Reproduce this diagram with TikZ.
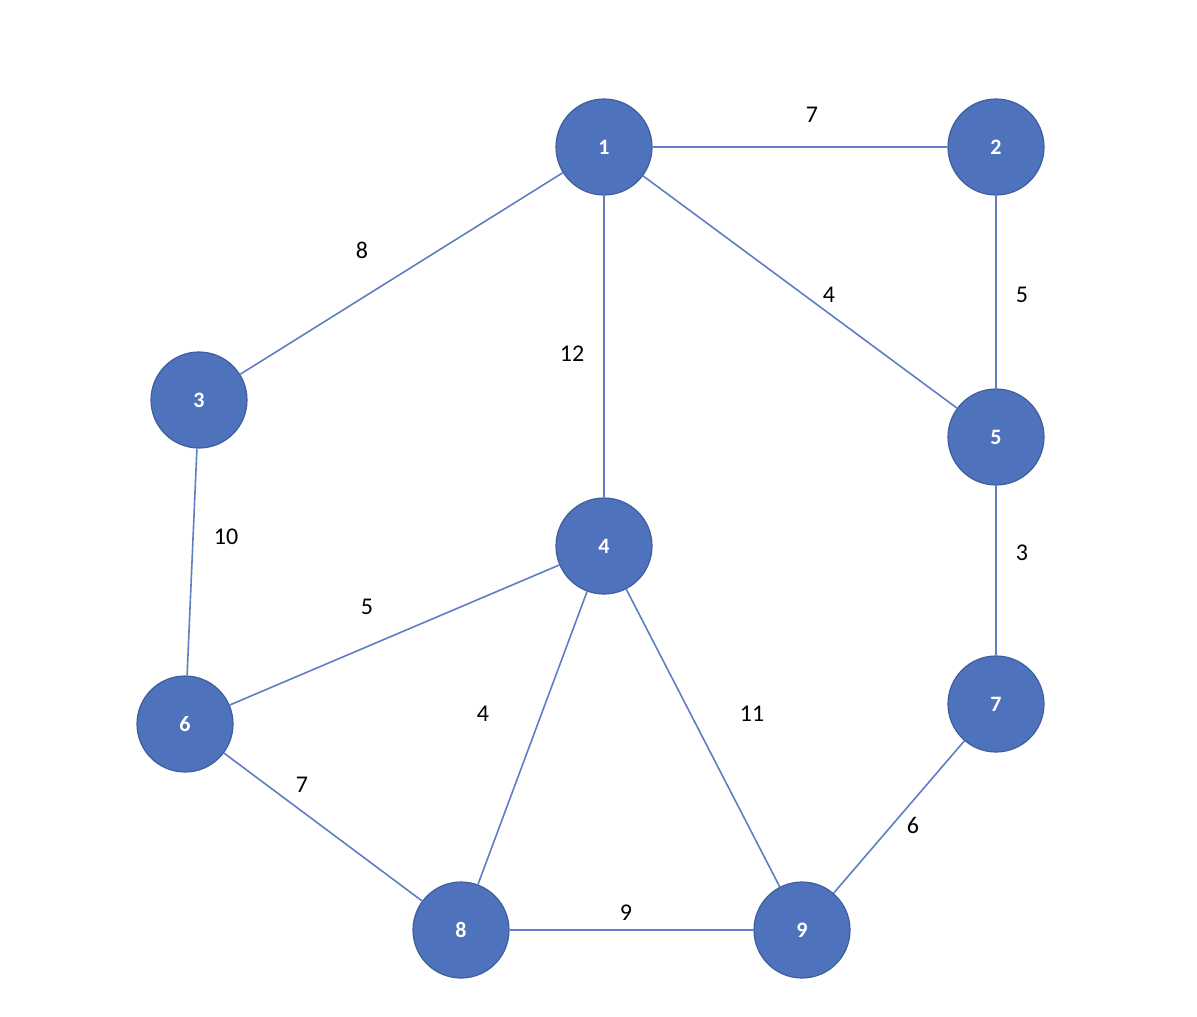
\documentclass[tikz,border=0pt]{standalone}
\usepackage{fontspec}
\setmainfont{Carlito}
\definecolor{nfill}{HTML}{4F72BC}
\definecolor{ndraw}{HTML}{3F5E9C}
\definecolor{ecol}{HTML}{5F7EC4}
\begin{document}
\begin{tikzpicture}[x=1pt,y=-1pt,
  vert/.style={circle,fill=nfill,draw=ndraw,line width=1.2pt,minimum size=96pt,inner sep=0pt,text=white,font=\fontsize{22}{24}\selectfont\bfseries},
  edge/.style={draw=ecol,line width=1.6pt},
  wlab/.style={font=\fontsize{24}{26}\selectfont,text=black}]
\useasboundingbox[fill=white] (0,0) rectangle (1197,1017);
\node[vert] (n1) at (604,147) {1};
\node[vert] (n2) at (996,147) {2};
\node[vert] (n3) at (199,400) {3};
\node[vert] (n4) at (604,546) {4};
\node[vert] (n5) at (996,437) {5};
\node[vert] (n6) at (185,724) {6};
\node[vert] (n7) at (996,704) {7};
\node[vert] (n8) at (461,930) {8};
\node[vert] (n9) at (802,930) {9};
\begin{scope}[on background layer/.style={}]
\end{scope}
\draw[edge] (n1) -- (n2);
\draw[edge] (n1) -- (n3);
\draw[edge] (n1) -- (n4);
\draw[edge] (n1) -- (n5);
\draw[edge] (n2) -- (n5);
\draw[edge] (n3) -- (n6);
\draw[edge] (n5) -- (n7);
\draw[edge] (n4) -- (n6);
\draw[edge] (n4) -- (n8);
\draw[edge] (n4) -- (n9);
\draw[edge] (n6) -- (n8);
\draw[edge] (n7) -- (n9);
\draw[edge] (n8) -- (n9);
\node[wlab] (l12) at (812,115) {7};
\node[wlab] (l13) at (362,250) {8};
\node[wlab] (l14) at (572,354) {12};
\node[wlab] (l15) at (829,295) {4};
\node[wlab] (l25) at (1022,295) {5};
\node[wlab] (l36) at (226,537) {10};
\node[wlab] (l46) at (367,607) {5};
\node[wlab] (l57) at (1022,553) {3};
\node[wlab] (l48) at (483,714) {4};
\node[wlab] (l49) at (752,714) {11};
\node[wlab] (l68) at (302,785) {7};
\node[wlab] (l79) at (913,825) {6};
\node[wlab] (l89) at (626,913) {9};
\end{tikzpicture}
\end{document}
